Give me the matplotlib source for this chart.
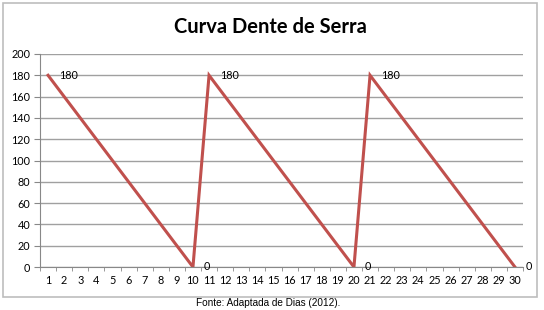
import matplotlib
matplotlib.use("Agg")
import matplotlib.pyplot as plt
from matplotlib.patches import Rectangle

days = list(range(1, 31))
stock = [180, 160, 140, 120, 100, 80, 60, 40, 20, 0,
         180, 160, 140, 120, 100, 80, 60, 40, 20, 0,
         180, 160, 140, 120, 100, 80, 60, 40, 20, 0]
label_days = [1, 10, 11, 20, 21, 30]
yticks = list(range(0, 201, 20))
title = "Curva Dente de Serra"
caption = "Fonte: Adaptada de Dias (2012)."

W, H = 544, 310
fig = plt.figure(figsize=(W / 100, H / 100), dpi=100)
fig.patch.set_facecolor("white")

# outer chart border
fig.patches.append(Rectangle((3 / W, 1 - 297 / H), 534 / W, 294 / H,
                             transform=fig.transFigure, fill=False,
                             edgecolor="#bdbdbd", linewidth=1.2))

ax = fig.add_axes([40 / W, 1 - 267 / H, 483 / W, 213 / H])
ax.plot(days, stock, color="#c0504d", linewidth=2.2, solid_joinstyle="miter")

ax.set_xlim(0.5, 30.5)
ax.set_ylim(0, 200)
ax.set_yticks(yticks)
ax.set_yticklabels([str(v) for v in yticks], family="Lato", fontsize=7.8)
ax.set_xticks(days)
ax.set_xticklabels([str(d) for d in days], family="Lato", fontsize=7.8)
ax.set_xticks([d + 0.5 for d in range(0, 31)], minor=True)
ax.tick_params(axis="x", which="major", length=0, pad=6)
ax.tick_params(axis="x", which="minor", length=3, color="#888888", direction="out")
ax.tick_params(axis="y", length=4, color="#888888", pad=3)
ax.grid(axis="y", color="#a0a0a0", linewidth=1)
ax.set_axisbelow(True)
for s in ["top", "right"]:
    ax.spines[s].set_visible(False)
ax.spines["left"].set_color("#888888")
ax.spines["bottom"].set_color("#888888")

for d in label_days:
    v = stock[d - 1]
    ax.annotate(str(v), (d, v), xytext=(8, 0), textcoords="offset points",
                ha="left", va="center", family="Lato", fontsize=7.8)

fig.text(270 / W, 1 - 27 / H, title, ha="center", va="center",
         family="Lato", fontweight="bold", fontsize=14.5)
fig.text(268 / W, 1 - 303 / H, caption, ha="center", va="center",
         family="Liberation Sans", fontsize=7.2)

fig.savefig("out.png", dpi=100)
